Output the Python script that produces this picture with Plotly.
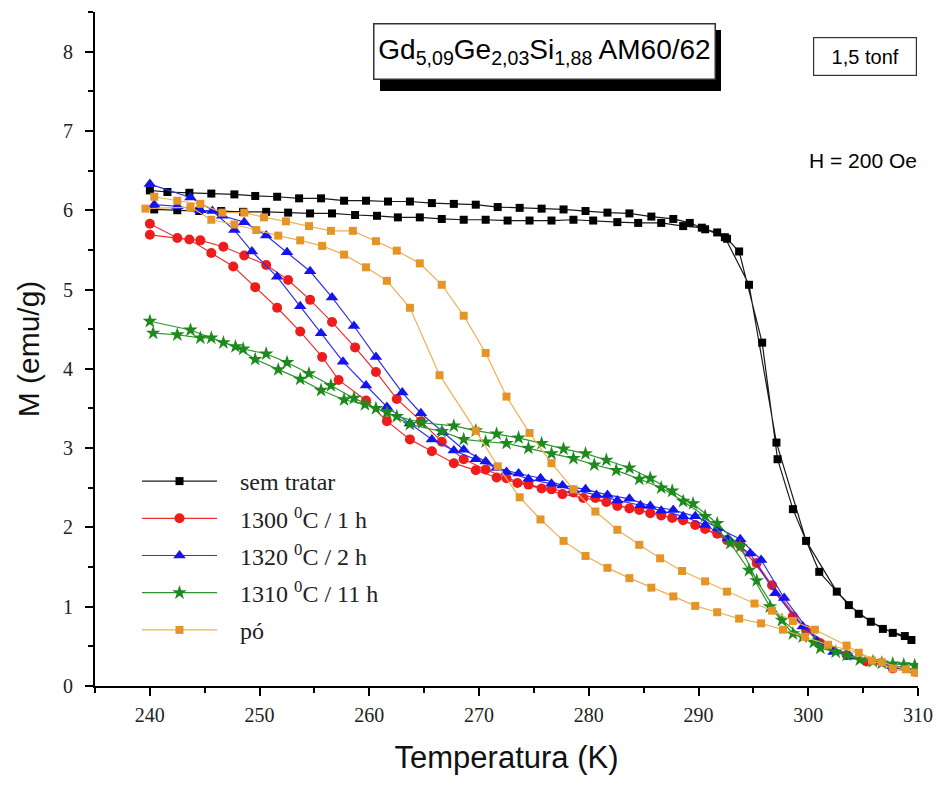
import plotly.graph_objects as go

# ---------------- data ----------------
# sem tratar (two branches)
T_sem_a = [240, 241.6, 243.6, 245.6, 247.7, 249.6, 251.6, 253.6, 255.6, 257.7, 259.7, 261.7, 263.7, 265.7,
           267.7, 269.7, 271.7, 273.7, 275.7, 277.7, 279.7, 281.7, 283.7, 285.7, 287.7, 289.2, 290.6, 291.7,
           292.6, 293.7, 295.8, 297.2, 298.6, 301.0, 303.7, 305.7, 307.7, 309.4]
M_sem_a = [6.25, 6.23, 6.22, 6.21, 6.20, 6.18, 6.17, 6.15, 6.15, 6.12, 6.12, 6.11, 6.11, 6.09,
           6.08, 6.07, 6.04, 6.03, 6.02, 6.01, 5.99, 5.97, 5.96, 5.92, 5.89, 5.84, 5.76, 5.72,
           5.64, 5.48, 4.33, 2.86, 2.23, 1.44, 1.02, 0.81, 0.67, 0.58]
T_sem_b = [240.4, 242.5, 244.5, 246.5, 248.5, 250.6, 252.6, 254.6, 256.6, 258.7, 260.7, 262.6, 264.6, 266.6,
           268.6, 270.6, 272.6, 274.6, 276.6, 278.6, 280.4, 282.6, 284.5, 286.6, 288.6, 290.3, 292.4, 294.6,
           297.1, 299.8, 302.6, 304.6, 306.8, 308.8]
M_sem_b = [6.01, 6.00, 5.99, 5.99, 5.98, 5.98, 5.97, 5.96, 5.96, 5.94, 5.93, 5.91, 5.91, 5.89,
           5.88, 5.88, 5.87, 5.87, 5.87, 5.88, 5.87, 5.85, 5.84, 5.84, 5.80, 5.78, 5.66, 5.06,
           3.07, 1.83, 1.19, 0.91, 0.72, 0.63]

# 1300 C / 1 h
T_1300_a = [240, 242.5, 244.6, 246.7, 248.6, 250.6, 252.6, 254.6, 256.6, 258.7, 260.6, 262.5, 264.7, 266.6,
            268.6, 270.6, 272.5, 274.5, 276.6, 278.6, 280.6, 282.6, 284.6, 286.6, 288.6, 290.6, 292.6, 295.3,
            298.6, 301.1, 305.3, 309.8]
M_1300_a = [5.83, 5.65, 5.62, 5.54, 5.43, 5.31, 5.12, 4.87, 4.59, 4.27, 3.96, 3.62, 3.34, 3.08,
            2.86, 2.73, 2.62, 2.54, 2.48, 2.44, 2.37, 2.27, 2.22, 2.15, 2.09, 1.98, 1.84, 1.55,
            0.88, 0.54, 0.31, 0.18]
T_1300_b = [240, 243.6, 245.6, 247.6, 249.6, 251.6, 253.7, 255.7, 257.2, 259.7, 261.6, 263.7, 265.7, 267.7,
            269.7, 271.6, 273.5, 275.7, 277.6, 279.5, 281.6, 283.7, 285.6, 287.6, 289.7, 291.7, 293.8, 296.7,
            299.8, 303.5, 307.7]
M_1300_b = [5.69, 5.63, 5.46, 5.29, 5.03, 4.77, 4.47, 4.15, 3.86, 3.60, 3.34, 3.11, 2.96, 2.81,
            2.72, 2.63, 2.56, 2.49, 2.42, 2.37, 2.32, 2.24, 2.18, 2.12, 2.03, 1.92, 1.78, 1.27,
            0.71, 0.39, 0.22]

# 1320 C / 2 h
T_1320_a = [240, 243.7, 246.6, 248.6, 250.6, 252.5, 254.6, 256.6, 258.6, 260.6, 263.0, 264.7, 266.7, 268.6,
            270.6, 272.5, 274.5, 276.6, 278.6, 280.7, 282.6, 284.7, 286.6, 288.6, 290.6, 292.7, 294.7, 297.0,
            299.5, 302.3, 305.9, 309.8]
M_1320_a = [6.33, 6.16, 5.93, 5.85, 5.68, 5.47, 5.23, 4.90, 4.54, 4.15, 3.70, 3.44, 3.20, 2.98,
            2.83, 2.70, 2.61, 2.55, 2.47, 2.41, 2.34, 2.28, 2.21, 2.14, 2.03, 1.86, 1.67, 1.17,
            0.75, 0.43, 0.31, 0.20]
T_1320_b = [240.4, 242.5, 244.6, 245.7, 247.7, 249.3, 251.6, 253.7, 255.6, 257.6, 259.7, 261.6, 263.7, 265.7,
            267.7, 269.7, 271.6, 273.6, 275.6, 277.6, 279.7, 281.7, 283.7, 285.6, 287.7, 289.7, 291.8, 293.8,
            295.7, 297.8, 300.8, 303.8, 307.7]
M_1320_b = [6.07, 6.05, 6.00, 5.99, 5.75, 5.48, 5.16, 4.79, 4.45, 4.09, 3.79, 3.52, 3.31, 3.11,
            2.97, 2.86, 2.75, 2.68, 2.62, 2.53, 2.48, 2.41, 2.36, 2.27, 2.22, 2.14, 1.99, 1.85,
            1.59, 1.11, 0.56, 0.37, 0.25]

# 1310 C / 11 h
T_1310_a = [240, 243.7, 246.7, 248.5, 250.6, 252.5, 254.5, 256.5, 258.6, 260.6, 262.5, 264.8, 267.7, 269.7,
            271.6, 273.6, 275.7, 277.7, 279.7, 281.6, 283.7, 285.6, 287.6, 289.5, 291.7, 293.8, 295.3, 297.6,
            299.5, 301.1, 303.5, 305.9, 307.7, 309.7]
M_1310_a = [4.60, 4.49, 4.33, 4.25, 4.19, 4.08, 3.94, 3.79, 3.63, 3.50, 3.40, 3.32, 3.28, 3.22,
            3.18, 3.13, 3.06, 2.99, 2.93, 2.85, 2.75, 2.62, 2.46, 2.30, 2.05, 1.76, 1.33, 0.83,
            0.62, 0.48, 0.39, 0.31, 0.28, 0.26]
T_1310_b = [240.3, 242.5, 244.6, 245.6, 247.8, 249.6, 251.7, 253.7, 255.6, 257.7, 259.6, 261.6, 263.7, 266.6,
            268.6, 270.6, 272.5, 274.5, 276.6, 278.6, 280.5, 282.5, 284.6, 286.6, 288.6, 290.6, 292.9, 294.6,
            296.5, 298.6, 300.5, 302.5, 304.7, 306.7, 308.7]
M_1310_b = [4.45, 4.43, 4.39, 4.39, 4.28, 4.12, 3.99, 3.87, 3.73, 3.61, 3.55, 3.45, 3.30, 3.21,
            3.11, 3.08, 3.06, 3.00, 2.93, 2.87, 2.79, 2.72, 2.61, 2.50, 2.33, 2.14, 1.80, 1.46,
            1.00, 0.66, 0.55, 0.43, 0.33, 0.29, 0.27]

# pó
T_po_a = [240.4, 242.5, 244.6, 246.6, 248.6, 250.4, 252.4, 254.5, 256.5, 258.5, 260.6, 262.5, 264.6, 266.6,
          268.6, 270.6, 272.5, 274.6, 276.6, 278.6, 280.6, 282.6, 284.6, 286.5, 288.5, 290.6, 292.6, 295.1,
          296.7, 298.6, 300.6, 303.5, 305.8, 307.7, 309.7]
M_po_a = [6.17, 6.12, 6.08, 5.97, 5.97, 5.91, 5.86, 5.80, 5.74, 5.74, 5.61, 5.49, 5.33, 5.06,
          4.67, 4.20, 3.65, 3.19, 2.81, 2.48, 2.20, 1.97, 1.78, 1.61, 1.45, 1.32, 1.19, 1.04,
          0.95, 0.82, 0.71, 0.51, 0.32, 0.22, 0.17]
T_po_b = [239.6, 243.7, 245.6, 247.7, 249.7, 251.7, 253.7, 255.7, 257.7, 259.7, 261.6, 263.7, 266.4, 269.7,
          271.7, 273.7, 275.6, 277.7, 279.7, 281.7, 283.7, 285.7, 287.7, 289.7, 291.7, 293.7, 295.7, 297.7,
          299.7, 301.8, 304.6, 306.7, 308.9]
M_po_b = [6.02, 6.04, 5.88, 5.82, 5.75, 5.68, 5.62, 5.55, 5.44, 5.28, 5.11, 4.77, 3.92, 3.22,
          2.77, 2.38, 2.10, 1.83, 1.64, 1.49, 1.36, 1.24, 1.13, 1.01, 0.93, 0.85, 0.79, 0.71,
          0.62, 0.52, 0.42, 0.30, 0.21]

series_names = ["sem tratar", "1300 <sup>0</sup>C / 1 h", "1320 <sup>0</sup>C / 2 h",
                "1310 <sup>0</sup>C / 11 h", "pó"]
x_ticks = [240, 250, 260, 270, 280, 290, 300, 310]
y_ticks = [0, 1, 2, 3, 4, 5, 6, 7, 8]

# ---------------- figure ----------------
W, H = 945, 791
L, R, TOP, BOT = 95, 27, 12, 105
PW, PH = W - L - R, H - TOP - BOT


def px(x):
    return (x - L) / PW


def py(y):
    return (H - BOT - y) / PH


styles = [
    dict(color="#000000", line="#1a1a1a", symbol="square", size=8),
    dict(color="#f01c1c", line="#f03030", symbol="circle", size=10),
    dict(color="#1414f0", line="#3030f0", symbol="triangle-up", size=11),
    dict(color="#1e8a1e", line="#2a962a", symbol="star", size=11),
    dict(color="#e59428", line="#efb055", symbol="square", size=8),
]

branches = [
    (T_sem_a, M_sem_a, T_sem_b, M_sem_b),
    (T_1300_a, M_1300_a, T_1300_b, M_1300_b),
    (T_1320_a, M_1320_a, T_1320_b, M_1320_b),
    (T_1310_a, M_1310_a, T_1310_b, M_1310_b),
    (T_po_a, M_po_a, T_po_b, M_po_b),
]

PAD = "\u00a0\u00a0\u00a0"

fig = go.Figure()
for i, (name, st, (ta, ma, tb, mb)) in enumerate(zip(series_names, styles, branches)):
    xs = list(ta) + list(reversed(tb))
    ys = list(ma) + list(reversed(mb))
    fig.add_trace(go.Scatter(
        x=xs, y=ys, mode="lines+markers", name=PAD + name, legendgroup=f"g{i}",
        line=dict(color=st["line"], width=1.2),
        marker=dict(color=st["color"], symbol=st["symbol"], size=st["size"], line=dict(width=0)),
    ))

axis_common = dict(
    showline=True, linecolor="black", linewidth=2, ticks="outside", ticklen=8, tickwidth=2,
    tickcolor="black", showgrid=False, zeroline=False, mirror=False,
    tickfont=dict(family="Liberation Serif", size=20, color="#222"),
    minor=dict(ticks="outside", ticklen=5, tickwidth=1.5, tickcolor="black", showgrid=False),
)

fig.update_xaxes(range=[235, 310], tickvals=x_ticks, minor_dtick=5, ticklabelstandoff=2,
                 title=dict(text="Temperatura (K)", font=dict(family="Liberation Sans", size=31, color="#111"),
                            standoff=21),
                 **axis_common)
fig.update_yaxes(range=[0, 8.5], tickvals=y_ticks, minor_dtick=0.5, ticklabelstandoff=8,
                 title=dict(text="M (emu/g)", font=dict(family="Liberation Sans", size=30, color="#111"),
                            standoff=15),
                 **axis_common)

# title box with shadow
fig.add_shape(type="rect", xref="paper", yref="paper", x0=px(380), x1=px(721), y0=py(91), y1=py(30),
              fillcolor="black", line=dict(width=0), layer="above")
fig.add_annotation(xref="paper", yref="paper", x=px(544), y=py(51), xanchor="center", yanchor="middle",
                   text="Gd<sub>5,09</sub>Ge<sub>2,03</sub>Si<sub>1,88</sub> AM60/62", showarrow=False,
                   font=dict(family="Liberation Sans", size=28, color="black"),
                   bgcolor="white", bordercolor="#333", borderwidth=1.5, width=338, height=52, borderpad=1)
fig.add_annotation(xref="paper", yref="paper", x=px(865), y=py(56), xanchor="center", yanchor="middle",
                   text="1,5 tonf", showarrow=False,
                   font=dict(family="Liberation Sans", size=20, color="black"),
                   bgcolor="white", bordercolor="#333", borderwidth=1.2, width=100, height=35, borderpad=1)
fig.add_annotation(xref="paper", yref="paper", x=px(919), y=py(160), xanchor="right", yanchor="middle",
                   text="H = 200 Oe", showarrow=False,
                   font=dict(family="Liberation Sans", size=21, color="black"))

fig.update_layout(
    width=W, height=H, margin=dict(l=L, r=R, t=TOP, b=BOT),
    paper_bgcolor="white", plot_bgcolor="white",
    legend=dict(x=px(137), y=py(459), xanchor="left", yanchor="top", bgcolor="rgba(0,0,0,0)",
                font=dict(family="Liberation Serif", size=24, color="#222"),
                itemwidth=75, tracegroupgap=3, traceorder="grouped"),
)

fig.write_html("out.html")
